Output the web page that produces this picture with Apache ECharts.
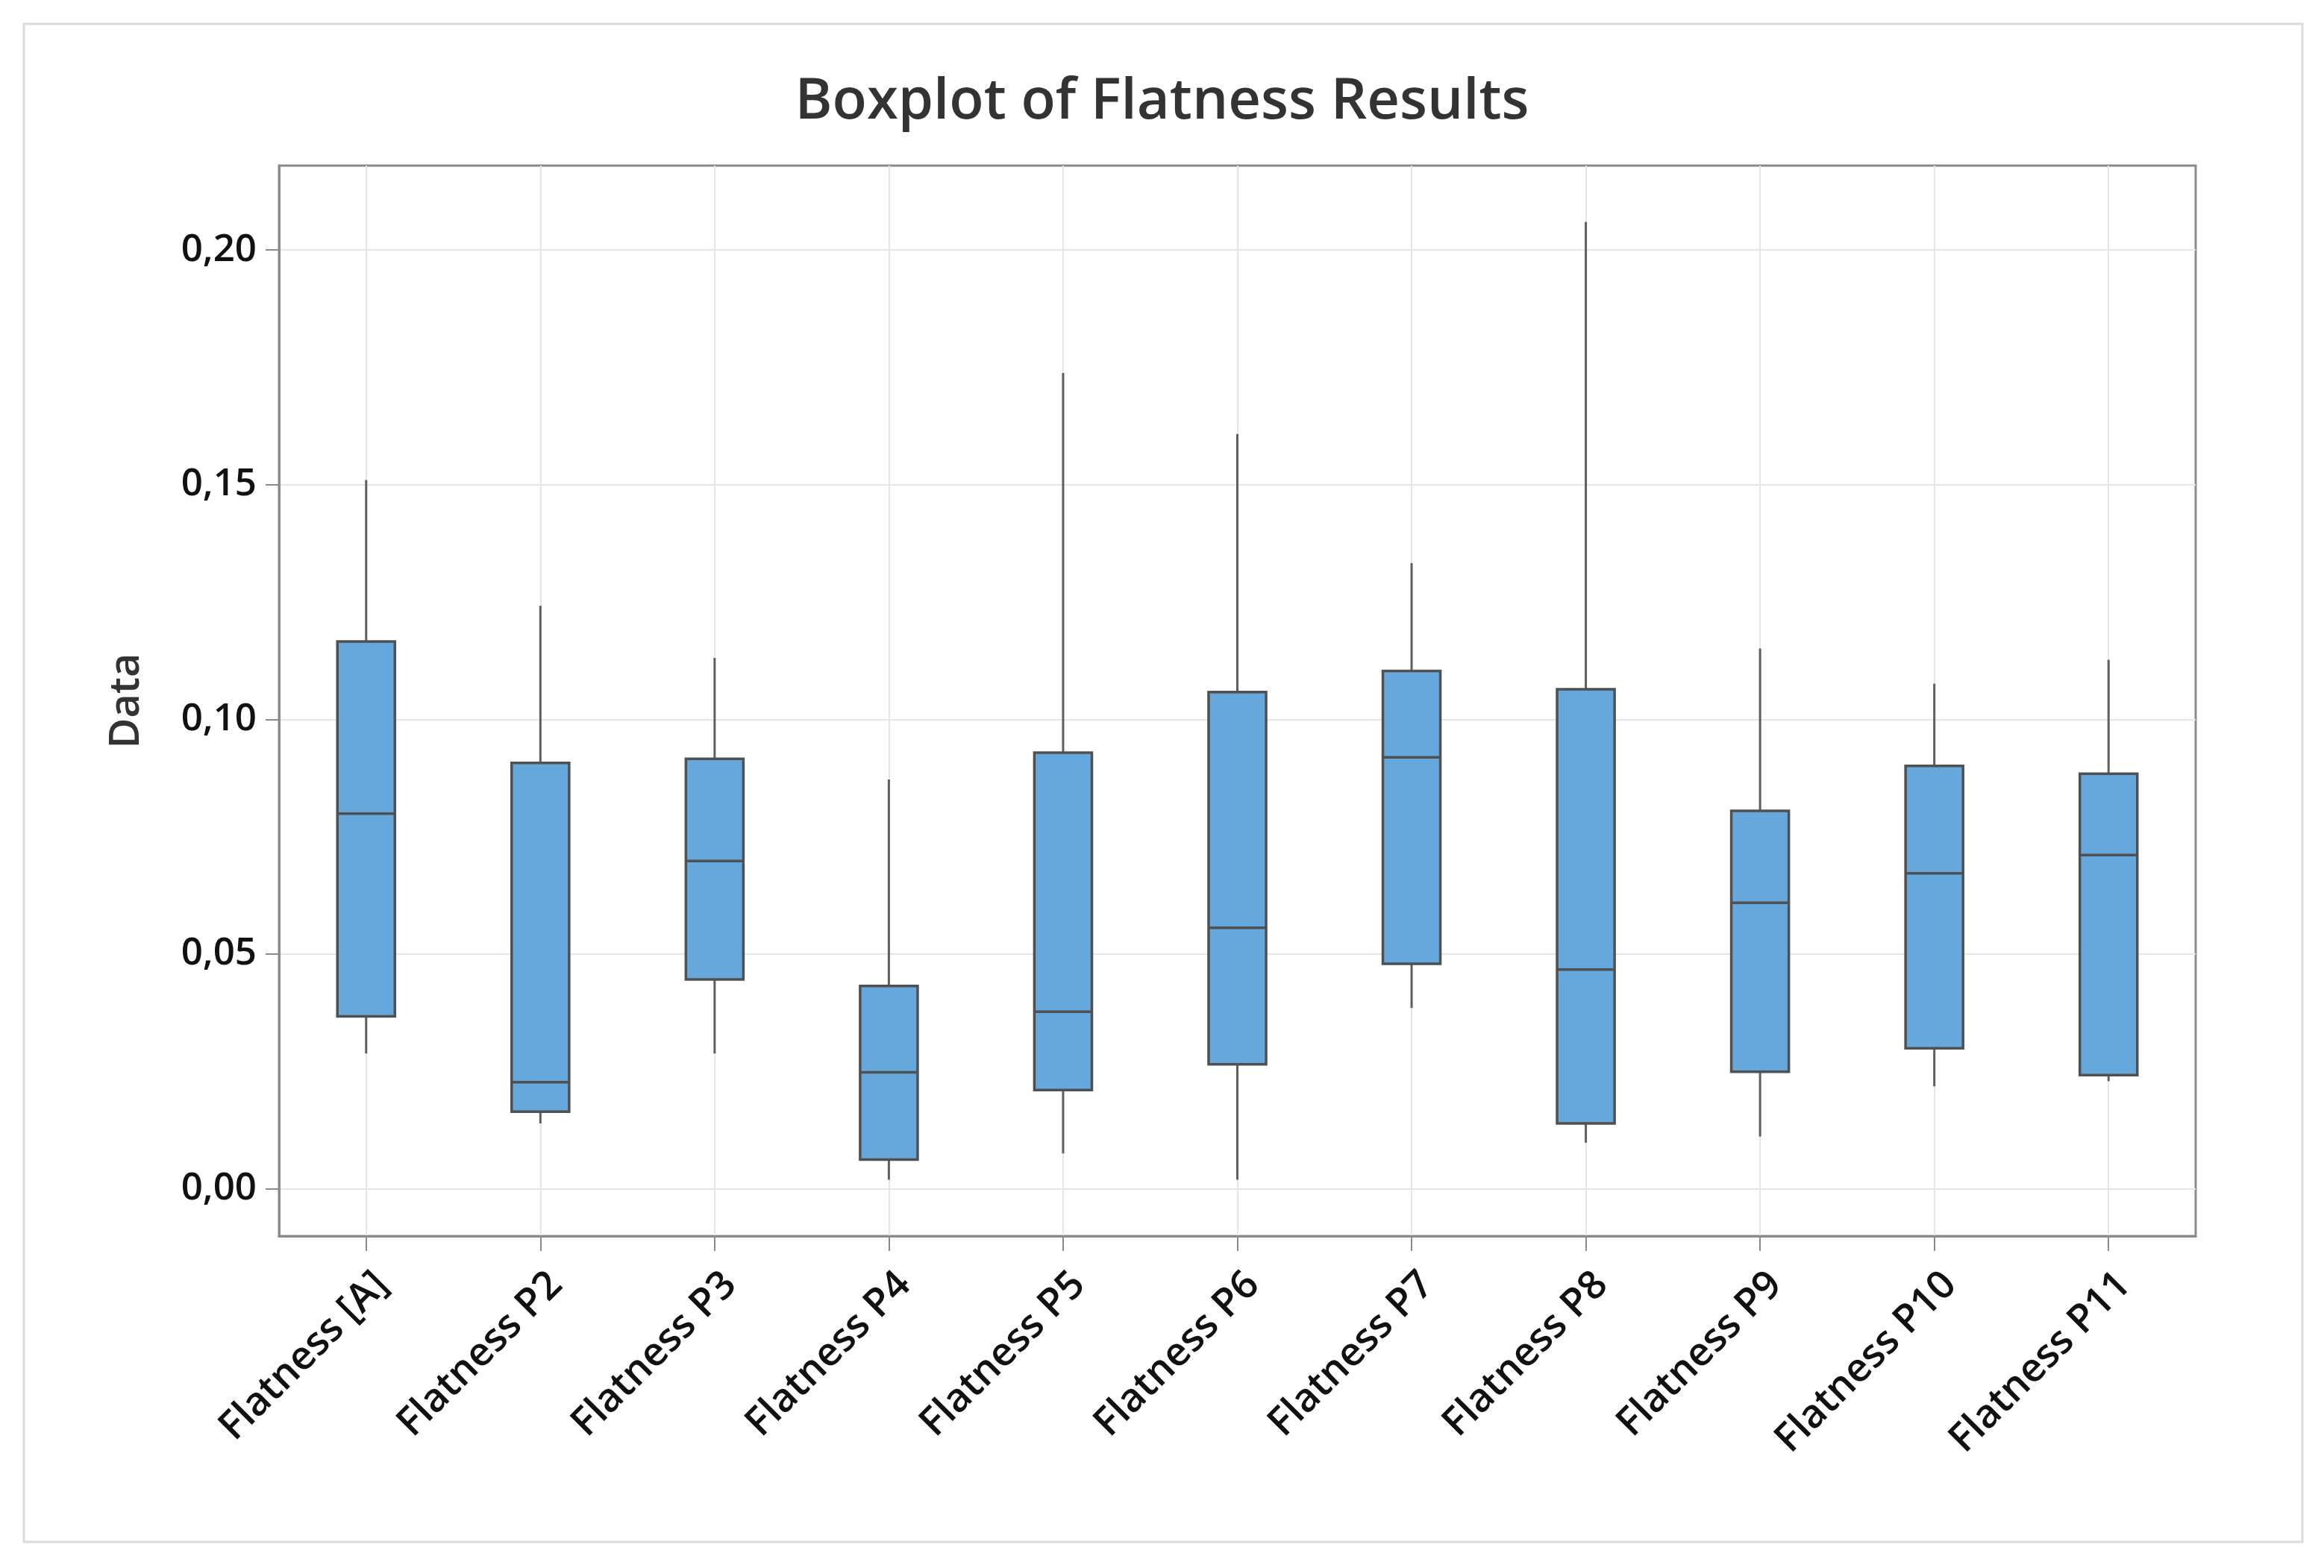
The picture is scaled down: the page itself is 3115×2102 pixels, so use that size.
<!DOCTYPE html>
<html>
<head>
<meta charset="utf-8">
<script src="https://cdn.jsdelivr.net/npm/echarts@6/dist/echarts.min.js"></script>
<style>
html,body{margin:0;padding:0;background:#fff;}
#chart{width:3115px;height:2102px;}
</style>
</head>
<body>
<div id="chart"></div>
<script>
const categories = ['Flatness [A]','Flatness P2','Flatness P3','Flatness P4','Flatness P5','Flatness P6','Flatness P7','Flatness P8','Flatness P9','Flatness P10','Flatness P11'];
const whiskerLow  = [0.0288, 0.0139, 0.0288, 0.0019, 0.0075, 0.0019, 0.0385, 0.0098, 0.0111, 0.0218, 0.0229];
const q1Values    = [0.0367, 0.0164, 0.0446, 0.0062, 0.0210, 0.0265, 0.0479, 0.0139, 0.0249, 0.0299, 0.0242];
const medianVals  = [0.0799, 0.0227, 0.0698, 0.0248, 0.0377, 0.0556, 0.0919, 0.0467, 0.0609, 0.0672, 0.0711];
const q3Values    = [0.1166, 0.0907, 0.0916, 0.0432, 0.0929, 0.1058, 0.1103, 0.1064, 0.0805, 0.0901, 0.0884];
const whiskerHigh = [0.1510, 0.1242, 0.1131, 0.0872, 0.1738, 0.1608, 0.1333, 0.2060, 0.1151, 0.1076, 0.1127];
const yTicks = [0, 0.05, 0.10, 0.15, 0.20];

const data = categories.map((c, i) => [i, whiskerLow[i], q1Values[i], medianVals[i], q3Values[i], whiskerHigh[i]]);

const chart = echarts.init(document.getElementById('chart'));
const FONT = '"Open Sans", "Noto Sans", sans-serif';

function renderItem(params, api) {
  const idx = api.value(0);
  const pLow = api.coord([idx, api.value(1)]);
  const pQ1 = api.coord([idx, api.value(2)]);
  const pMed = api.coord([idx, api.value(3)]);
  const pQ3 = api.coord([idx, api.value(4)]);
  const pHigh = api.coord([idx, api.value(5)]);
  const band = api.size([1, 0])[0];
  const w = band * 0.33;
  const x = pQ1[0];
  const lineStyle = {stroke: '#5f5f5f', lineWidth: 3};
  return {
    type: 'group',
    children: [
      {type: 'line', shape: {x1: x, y1: pHigh[1], x2: x, y2: pQ3[1]}, style: lineStyle},
      {type: 'line', shape: {x1: x, y1: pQ1[1], x2: x, y2: pLow[1]}, style: lineStyle},
      {type: 'rect', shape: {x: x - w / 2, y: pQ3[1], width: w, height: pQ1[1] - pQ3[1]},
        style: {fill: '#66a8db', stroke: '#505050', lineWidth: 3.5}},
      {type: 'line', shape: {x1: x - w / 2, y1: pMed[1], x2: x + w / 2, y2: pMed[1]},
        style: {stroke: '#505050', lineWidth: 3.5}}
    ]
  };
}

chart.setOption({
  backgroundColor: '#ffffff',
  animation: false,
  title: {
    text: 'Boxplot of Flatness Results',
    left: 'center',
    top: 94,
    textStyle: {fontFamily: FONT, fontSize: 76, fontWeight: 600, color: '#333333'}
  },
  graphic: [{
    type: 'rect',
    shape: {x: 32, y: 32, width: 3054, height: 2035},
    style: {fill: null, stroke: '#dcdcdc', lineWidth: 3},
    silent: true
  }],
  grid: {
    left: 374, right: 172, top: 222, bottom: 445,
    show: true, borderColor: '#8a8a8a', borderWidth: 3, backgroundColor: '#ffffff'
  },
  xAxis: {
    type: 'category',
    data: categories,
    boundaryGap: true,
    axisLine: {show: true, onZero: false, lineStyle: {color: '#8a8a8a', width: 3}},
    axisTick: {show: true, alignWithLabel: true, length: 20, lineStyle: {color: '#8a8a8a', width: 2}},
    splitLine: {show: true, alignWithLabel: true, lineStyle: {color: '#e6e6e6', width: 2}},
    axisLabel: {rotate: 45, margin: 36, verticalAlign: 'top', lineHeight: 60,
      fontFamily: FONT, fontSize: 53, color: '#111111', fontWeight: 600}
  },
  yAxis: {
    type: 'value',
    min: -0.0101,
    max: 0.218,
    name: 'Data',
    nameLocation: 'middle',
    nameGap: 176,
    nameTextStyle: {fontFamily: FONT, fontSize: 56, color: '#333333', fontWeight: 600},
    axisLine: {show: true, lineStyle: {color: '#8a8a8a', width: 3}},
    axisTick: {show: true, length: 18, customValues: yTicks, lineStyle: {color: '#8a8a8a', width: 2}},
    splitLine: {show: true, lineStyle: {color: '#e6e6e6', width: 2}},
    axisLabel: {
      customValues: yTicks,
      margin: 30,
      fontFamily: FONT, fontSize: 51, color: '#111111', fontWeight: 600,
      formatter: v => v.toFixed(2).replace('.', ',')
    }
  },
  series: [{
    type: 'custom',
    renderItem: renderItem,
    encode: {x: 0, y: [1, 2, 3, 4, 5]},
    data: data
  }]
});
</script>
</body>
</html>
